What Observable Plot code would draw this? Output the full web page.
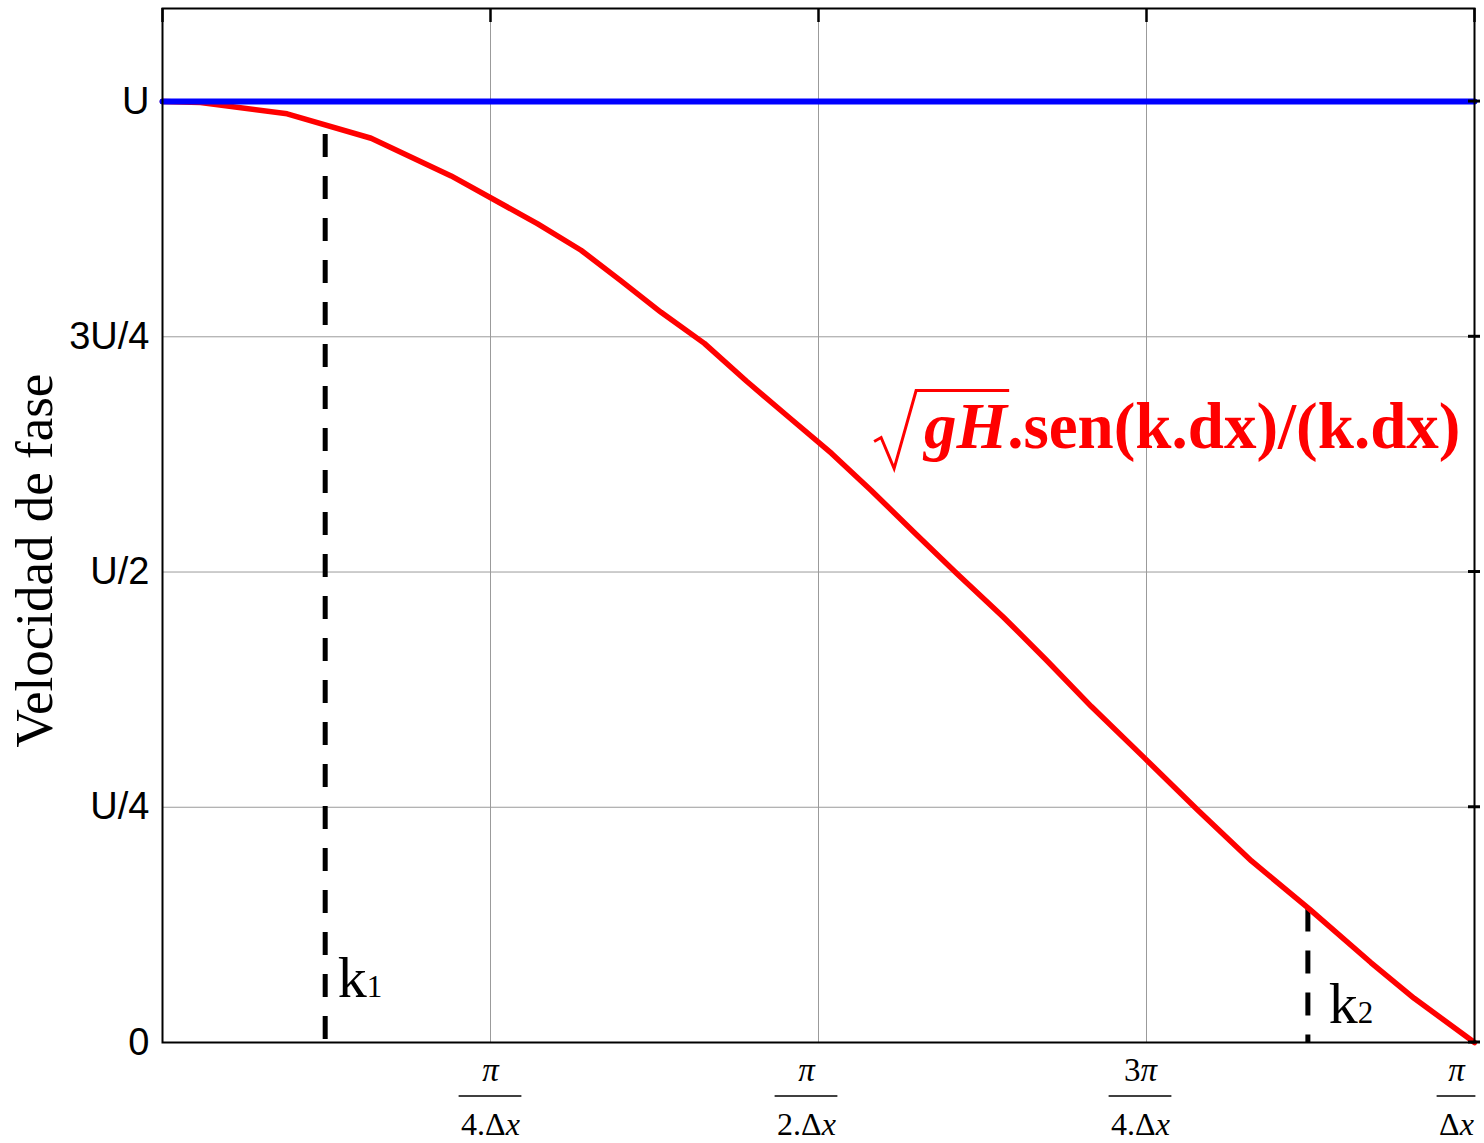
<!DOCTYPE html>
<html><head><meta charset="utf-8">
<script src="https://cdn.jsdelivr.net/npm/d3@7"></script>
<script src="https://cdn.jsdelivr.net/npm/@observablehq/plot@0.6"></script>
<style>body{margin:0;background:#fff} svg{display:block}</style>
</head><body><div id="chart"></div>
<script>
// ---- data (x in units of π/Δx, y in units of U) ----
const kdx = [0, 0.029, 0.095, 0.159, 0.220, 0.286, 0.319, 0.349, 0.380, 0.413, 0.445, 0.477, 0.510, 0.540, 0.573, 0.605, 0.641, 0.674, 0.708, 0.748, 0.789, 0.830, 0.874, 0.921, 0.954, 1.0];
const vel = [1.0, 0.999, 0.987, 0.961, 0.921, 0.870, 0.842, 0.810, 0.776, 0.743, 0.703, 0.665, 0.626, 0.587, 0.542, 0.499, 0.452, 0.406, 0.357, 0.303, 0.247, 0.193, 0.142, 0.085, 0.047, 0.0];
const uX = [0, 1];
const uY = [1, 1];
const xTicks = [0.25, 0.5, 0.75, 1];
const xNum = ["π", "π", "3π", "π"];
const xDen = ["4.Δx", "2.Δx", "4.Δx", "Δx"];
const yTicks = [0, 0.25, 0.5, 0.75, 1];
const yLabels = ["0", "U/4", "U/2", "3U/4", "U"];
const kX = [0.124, 0.873];
const kTop = [0.965, 0.142];
const kSub = ["1", "2"];
const kLabelX = [0.1335, 0.889];
const kLabelY = [0.048, 0.021];
const formula = "gH.sen(k.dx)/(k.dx)";
const formulaX = 0.5805, formulaY = 0.6323;
const yTitle = "Velocidad de fase";

// ---- layout ----
const W = 1484, H = 1143;
const serif = "Liberation Serif, Times New Roman, serif";
const sans = "Liberation Sans, Arial, sans-serif";
const labelShift = [0, -12, -6, -18];

const curve = kdx.map((x, i) => ({x, y: vel[i]}));
const uline = uX.map((x, i) => ({x, y: uY[i]}));
const kLines = kX.map((x, i) => ({x, top: kTop[i]}));
const kLabs = kLabelX.map((x, i) => ({x, y: kLabelY[i], s: kSub[i]}));

const marks = [
  Plot.ruleX(xTicks.slice(0, 3), {stroke: "#9b9b9b", strokeWidth: 1}),
  Plot.ruleY(yTicks.slice(1, 4), {stroke: "#9b9b9b", strokeWidth: 1}),
  Plot.ruleX([0, ...xTicks], {stroke: "black", strokeWidth: 2.5, insetBottom: 1020}),
  Plot.ruleX(kLines, {x: "x", y1: "top", y2: 0, stroke: "black", strokeWidth: 5, strokeDasharray: "23,19"}),
  Plot.line(curve, {x: "x", y: "y", stroke: "#ff0000", strokeWidth: 5.5}),
  Plot.line(uline, {x: "x", y: "y", stroke: "#0000ff", strokeWidth: 6}),
  Plot.frame({stroke: "black", strokeWidth: 2}),
  Plot.text(yTicks, {y: d => d, text: (d, i) => yLabels[i], frameAnchor: "left", textAnchor: "end", dx: -13, fontSize: 38, fontFamily: sans, fill: "black"}),
  Plot.text([yTitle], {text: d => d, frameAnchor: "left", textAnchor: "middle", rotate: -90, dx: -127, dy: 35, fontSize: 53, fontFamily: serif, fill: "black"}),
  Plot.text(kLabs, {x: "x", y: "y", text: () => "k", textAnchor: "start", lineAnchor: "bottom", fontSize: 58, fontFamily: serif, fill: "black", ariaDescription: "klabels"}),
  Plot.text([formula], {x: () => formulaX, y: () => formulaY, text: d => d, textAnchor: "start", lineAnchor: "bottom", fontSize: 65, fontWeight: "bold", fontFamily: serif, fill: "#ff0000", ariaDescription: "formula"}),
  ...xTicks.map((t, i) => Plot.text([t], {x: d => d, text: () => xNum[i], frameAnchor: "bottom", lineAnchor: "bottom", dy: 38, dx: labelShift[i], fontSize: 33, fontFamily: serif, fontStyle: "italic", fill: "black", ariaDescription: "num"})),
  ...xTicks.map((t, i) => Plot.text([t], {x: d => d, text: () => xDen[i], frameAnchor: "bottom", lineAnchor: "bottom", dy: 92, dx: labelShift[i], fontSize: 32, fontFamily: serif, fill: "black", ariaDescription: "den"}))
];

const plot = Plot.plot({
  width: W, height: H,
  marginLeft: 162, marginRight: 10, marginTop: 8, marginBottom: 101,
  x: {domain: [0, 1], axis: null},
  y: {domain: [0, 1.0989], axis: null},
  style: {background: "white", fontFamily: serif, overflow: "visible"},
  marks
});
document.getElementById("chart").append(plot);

const svg = d3.select(plot);
const sx = plot.scale("x"), sy = plot.scale("y");
const sel = (name) => svg.selectAll(`g[aria-description="${name}"] text`);

try {
  // numerators: digits upright, π italic
  sel("num").each(function () {
    const s = this.textContent;
    if (s.length > 1) {
      this.textContent = "";
      d3.select(this).append("tspan").attr("font-style", "normal").text(s.slice(0, -1));
      d3.select(this).append("tspan").text(s.slice(-1));
    }
  });
  // denominators: x italic, and fraction bars
  const bars = svg.append("g").attr("stroke", "black").attr("stroke-width", 1.5);
  const barY = sy.apply(0) + 54;
  sel("den").each(function (d, i) {
    const s = this.textContent;
    this.textContent = "";
    d3.select(this).append("tspan").text(s.slice(0, -1));
    d3.select(this).append("tspan").attr("font-style", "italic").text(s.slice(-1));
    const w = this.getComputedTextLength() + 4;
    const cx = sx.apply(xTicks[i]) + labelShift[i];
    bars.append("line").attr("x1", cx - w / 2).attr("x2", cx + w / 2).attr("y1", barY).attr("y2", barY);
  });
  // k subscripts
  sel("klabels").each(function (d, i) {
    d3.select(this).append("tspan").attr("font-size", 31).text(kLabs[i].s);
  });
  // formula: italic gH and radical
  const ft = sel("formula");
  const node = ft.node();
  if (node) {
    node.textContent = "";
    ft.append("tspan").attr("font-style", "italic").text(formula.slice(0, 2));
    ft.append("tspan").text(formula.slice(2));
    const e1 = node.getExtentOfChar(1);
    const p0 = node.getStartPositionOfChar(0);
    const m = node.getCTM();
    const tr = (x, y) => ({x: m.a * x + m.c * y + m.e, y: m.b * x + m.d * y + m.f});
    const a = tr(p0.x, p0.y);
    const b = tr(e1.x + e1.width, p0.y);
    const xs = a.x, yb = a.y, xe = b.x;
    const top = yb - 57;
    svg.append("path")
      .attr("d", `M${xs - 50},${yb - 6} L${xs - 43},${yb - 10} L${xs - 30},${yb + 21} L${xs - 8},${top} L${xe + 2},${top}`)
      .attr("fill", "none").attr("stroke", "#ff0000").attr("stroke-width", 3).attr("stroke-linejoin", "miter");
  }
} catch (e) { console.error(e); }

// small tick stubs on right side
const stubs = svg.append("g").attr("stroke", "black").attr("stroke-width", 3);
const xr = sx.apply(1);
yTicks.forEach(t => {
  const y = sy.apply(t);
  stubs.append("line").attr("x1", xr - 6).attr("x2", xr + 6).attr("y1", y).attr("y2", y);
});
</script>
</body></html>
